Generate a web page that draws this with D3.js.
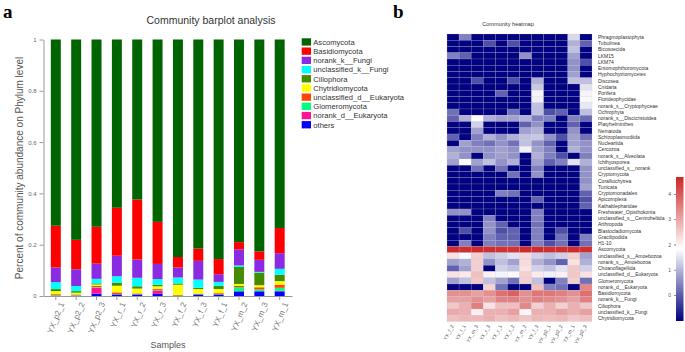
<!DOCTYPE html>
<html>
<head>
<meta charset="utf-8">
<script src="https://cdn.jsdelivr.net/npm/d3@7"></script>
<style>
  body { margin: 0; background: #fff; }
  svg { display: block; font-family: "Liberation Sans", Arial, sans-serif; }
</style>
</head>
<body>
<div id="chart"></div>
<script>
// ---- Data: panel a (barplot) ----
const samples = ["YX_p2_1", "YX_p2_2", "YX_p2_3", "YX_r_1", "YX_r_2", "YX_r_3",
                 "YX_f_2", "YX_f_3", "YX_f_1", "YX_m_2", "YX_m_3", "YX_m_1"];

const taxa = ["Ascomycota", "Basidiomycota", "norank_k__Fungi", "unclassified_k__Fungi",
              "Ciliophora", "Chytridiomycota", "unclassified_d__Eukaryota",
              "Glomeromycota", "norank_d__Eukaryota", "others"];

const ascomycota     = [0.726, 0.781, 0.730, 0.656, 0.624, 0.711, 0.848, 0.815, 0.856, 0.790, 0.826, 0.735];
const basidiomycota  = [0.163, 0.115, 0.144, 0.187, 0.234, 0.164, 0.041, 0.048, 0.059, 0.028, 0.033, 0.098];
const norankFungi    = [0.057, 0.065, 0.059, 0.080, 0.071, 0.059, 0.039, 0.073, 0.030, 0.063, 0.047, 0.061];
const unclassFungi   = [0.027, 0.020, 0.018, 0.025, 0.033, 0.022, 0.023, 0.032, 0.015, 0.006, 0.003, 0.023];
const ciliophora     = [0.008, 0.006, 0.004, 0.012, 0.009, 0.006, 0.005, 0.005, 0.013, 0.066, 0.049, 0.025];
const chytridio      = [0.012, 0.007, 0.006, 0.026, 0.019, 0.010, 0.040, 0.018, 0.016, 0.008, 0.008, 0.014];
const unclassEuk     = [0.004, 0.003, 0.004, 0.006, 0.003, 0.004, 0.002, 0.002, 0.004, 0.004, 0.008, 0.012];
const glomero        = [0.002, 0.002, 0.002, 0.001, 0.001, 0.002, 0.001, 0.001, 0.001, 0.016, 0.007, 0.012];
const norankEuk      = [0.000, 0.000, 0.024, 0.001, 0.000, 0.014, 0.000, 0.000, 0.000, 0.001, 0.001, 0.002];
const othersVals     = [0.001, 0.001, 0.009, 0.006, 0.006, 0.008, 0.001, 0.006, 0.006, 0.018, 0.018, 0.018];

const taxaColors = {
    "Ascomycota": "#006400",
    "Basidiomycota": "#ff0000",
    "norank_k__Fungi": "#8a2be2",
    "unclassified_k__Fungi": "#00ffff",
    "Ciliophora": "#458b00",
    "Chytridiomycota": "#ffff00",
    "unclassified_d__Eukaryota": "#ff4500",
    "Glomeromycota": "#00ff7f",
    "norank_d__Eukaryota": "#ff1493",
    "others": "#0000ff"
};

// ---- Data: panel b (heatmap) ----
const heatSamples = ["YX_f_2", "YX_f_1", "YX_m_3", "YX_r_3", "YX_r_1", "YX_r_2",
                     "YX_m_2", "YX_f_3", "YX_p2_1", "YX_p2_2", "YX_m_1", "YX_p2_3"];

const heatRows = ["Phragmoplastophyta", "Tubulinea", "Bicosoecida", "LKM15", "LKM74",
    "Entomophthoromycota", "Hyphochytriomycetes", "Discosea", "Cnidaria", "Porifera",
    "Florideophycidae", "norank_s__Cryptophyceae", "Ochrophyta", "norank_s__Discicristoidea",
    "Platyhelminthes", "Nematoda", "Schizoplasmodiida", "Nucleariida", "Cercozoa",
    "norank_s__Alveolata", "Ichthyosporea", "unclassified_s__norank", "Cryptomycota",
    "Coralliochytrea", "Tunicata", "Cryptomonadales", "Apicomplexa", "Kathablepharidae",
    "Freshwater_Opisthokonta", "unclassified_s__Centroheliida", "Arthropoda",
    "Blastocladiomycota", "Gracilipodida", "H1-10", "Ascomycota", "unclassified_s__Amoebozoa",
    "norank_s__Amoebozoa", "Choanoflagellida", "unclassified_d__Eukaryota", "Glomeromycota",
    "norank_d__Eukaryota", "Basidiomycota", "norank_k__Fungi", "Ciliophora",
    "unclassified_k__Fungi", "Chytridiomycota"];

// log abundance, one row per taxon, columns follow heatSamples
const heatValues = [
    [-1, 0.4, -1, -1, -1, -1, -1, -1, -1, -1, 1.4, -1],
    [-1, -1, -1, -0.15, -1, -0.15, -1, -1, -1, -1, 0.95, 0.05],
    [-1, -1, -1, -1, -1, -1, -1, -1, -1, -1, 1.12, -1],
    [0.4, 0.05, -1, -1, -1, -1, 0.6, -1, -1, -1, 0.77, -1],
    [-1, -1, -1, -1, -1, -1, -1, -1, -1, -1, 0.6, -0.15],
    [-1, -1, -1, -1, -1, -1, -1, -1, -1, -1, 0.6, -1],
    [-1, -1, -1, -1, -1, -1, -1, -1, -1, -1, 0.77, -1],
    [-1, -1, -0.15, -1, -1, -0.15, -1, 0.95, -1, -1, 1.12, 1.12],
    [-1, -1, -1, -1, -1, -1, -1, 1.2, -1, -1, -1, 1.5],
    [-1, -1, -1, -1, 0.05, -1, -1, 1.7, -1, -1, -1, 1.7],
    [-1, -1, -1, -1, -1, -1, -1, 1.65, -1, -1, -1, 1.75],
    [-1, -1, -1, -1, -1, -1, -1, 1.12, -1, -1, -1, 1.57],
    [0.23, -1, -1, -1, -1, 0.23, -1, 1.12, -0.15, 0.05, -1, 1.12],
    [0.05, 0.95, 1.8, 0.95, 0.77, 0.77, 0.95, 0.4, 0.4, -1, 0.4, 0.15],
    [-1, -1, 1.3, -1, -1, -1, 0.05, 0.6, -1, -1, 0.05, -1],
    [-1, -1, 0.77, -1, -1, -1, 0.77, 0.95, -1, -1, 0.6, -1],
    [0.05, -1, 0.4, 0.95, 0.6, 0.95, 1.12, 1.2, 0.6, -0.15, 0.77, 0.23],
    [-1, 0.77, 0.4, 0.23, 0.6, 0.23, 1.12, 0.6, 0.05, -1, 0.77, 0.6],
    [0.77, 0.6, 0.6, 0.6, 0.77, 0.6, 1.65, 0.77, 0.4, -1, 0.95, 0.6],
    [0.95, 0.6, -1, 0.6, 0.77, 0.6, -1, 0.95, 0.4, -0.15, -1, 0.4],
    [0.77, 1.8, 0.77, 1.12, 0.6, 0.95, -1, 0.77, 0.05, 0.4, 1.5, 0.95],
    [-1, -1, 0.23, -1, 0.23, -1, -1, 0.4, -1, -1, -1, 0.6],
    [-1, -1, -1, -1, -1, 0.23, -1, 0.6, -1, -1, -1, 0.6],
    [-1, -1, -1, -1, -1, -1, -1, -1, -1, -1, -1, 0.6],
    [-1, -1, -1, -1, -1, -1, -1, -1, -1, -1, -1, 0.77],
    [-1, -1, -1, -1, 0.4, 0.23, -1, -1, -1, -1, -1, 0.05],
    [-1, -1, -1, -1, -1, -1, -1, 0.05, -1, -1, -1, -0.15],
    [-1, -1, -1, -1, -1, -1, -1, -1, -1, -1, -1, 0.05],
    [0.6, 0.6, -1, -1, -1, -1, -1, 0.4, -1, -1, -1, -1],
    [-1, -1, -1, 0.4, -1, -1, -1, 0.4, -1, -1, -1, -1],
    [-1, -1, -1, 0.6, 0.05, -1, -1, 0.23, -1, -1, -1, -1],
    [-1, -0.15, -1, 0.6, -0.15, 0.05, -1, 0.4, -1, -0.15, -1, -1],
    [-1, -1, -1, 0.4, 0.05, 0.05, -1, 0.4, -1, 0.23, -1, 0.4],
    [-1, 0.4, -1, 0.4, 0.23, 0.23, -1, 0.4, -0.15, 0.23, -1, 0.23],
    [4.6, 4.55, 4.6, 4.55, 4.5, 4.5, 4.6, 4.6, 4.55, 4.55, 4.6, 4.55],
    [2.2, 1.75, 2.45, 1.12, 1.3, 1.5, 2.3, 1.3, 1.12, 1.3, 2.45, 0.77],
    [0.77, 0.95, 2.45, 0.6, 1.12, 0.77, 2.3, 0.95, 0.6, 0.05, 2.2, 0.95],
    [0.05, 0.77, 2.45, -1, 1.3, 1.12, 2.2, 1.3, 1.12, 1.5, 2.55, 1.3],
    [2.2, 2.1, 2.65, 2.0, 1.7, 1.9, 2.45, 2.1, 1.65, 2.0, 2.55, 2.2],
    [0.77, 1.12, 2.55, 1.12, 0.77, 0.23, 2.45, 1.12, -1, 0.4, 2.45, 0.23],
    [-1, -1, -1, 2.4, 0.23, -1, -1, 2.65, 0.4, 0.23, -1, 3.4],
    [3.28, 3.28, 3.07, 3.28, 3.7, 3.9, 3.28, 3.6, 3.6, 3.5, 3.28, 3.7],
    [3.07, 3.07, 3.28, 3.07, 3.45, 3.5, 3.28, 3.5, 3.4, 3.28, 3.07, 3.5],
    [2.55, 2.86, 3.49, 2.2, 2.65, 2.65, 3.4, 2.45, 2.86, 2.45, 2.86, 2.55],
    [2.95, 2.86, 2.03, 2.86, 2.86, 3.07, 1.95, 2.86, 2.86, 3.07, 2.86, 3.07],
    [2.65, 2.75, 2.75, 2.86, 2.65, 2.75, 2.6, 2.75, 2.7, 2.75, 2.55, 2.65]
];

const colorTicks = [0, 1, 2, 3, 4];

const width = 685, height = 352;

const svg = d3.select("#chart")
    .append("svg")
    .attr("width", width)
    .attr("height", height);

drawBarplot();
drawLegend();
drawHeatmap();

function drawBarplot() {

    // ---- panel letter and title ----
    svg.append("text")
        .attr("x", 3).attr("y", 18)
        .style("font-family", "'Liberation Serif', serif")
        .style("font-weight", "bold")
        .style("font-size", "19px")
        .text("a");

    svg.append("text")
        .attr("x", 211).attr("y", 24)
        .attr("text-anchor", "middle")
        .style("font-size", "10.5px")
        .attr("fill", "#333")
        .text("Community barplot analysis");

    // ---- scales ----
    const xScale = d3.scaleBand()
        .domain(samples)
        .range([43.5, 292])
        .paddingInner(0.51)
        .paddingOuter(0.36);

    const yScale = d3.scaleLinear()
        .domain([0, 1])
        .range([296, 39.5]);

    // ---- stacked bars ----
    const columns = {
        "Ascomycota": ascomycota, "Basidiomycota": basidiomycota,
        "norank_k__Fungi": norankFungi, "unclassified_k__Fungi": unclassFungi,
        "Ciliophora": ciliophora, "Chytridiomycota": chytridio,
        "unclassified_d__Eukaryota": unclassEuk, "Glomeromycota": glomero,
        "norank_d__Eukaryota": norankEuk, "others": othersVals
    };
    const table = samples.map((s, i) => {
        const row = { sample: s };
        taxa.forEach(t => row[t] = columns[t][i]);
        return row;
    });

    const stackKeys = taxa.slice().reverse();
    const series = d3.stack().keys(stackKeys)(table);

    svg.append("g")
        .selectAll("g")
        .data(series)
        .join("g")
        .attr("fill", d => taxaColors[d.key])
        .selectAll("rect")
        .data(d => d)
        .join("rect")
        .attr("x", d => xScale(d.data.sample))
        .attr("y", d => yScale(d[1]))
        .attr("width", xScale.bandwidth())
        .attr("height", d => Math.max(0, yScale(d[0]) - yScale(d[1])));

    // ---- left axis ----
    const yAxis = svg.append("g")
        .attr("transform", "translate(43.5,0)")
        .call(d3.axisLeft(yScale)
            .tickValues([0, 0.2, 0.4, 0.6, 0.8, 1])
            .tickFormat(d => d)
            .tickSize(4)
            .tickSizeOuter(0));
    yAxis.selectAll("path, line").attr("stroke", "#999");
    yAxis.selectAll("text").attr("fill", "#666").style("font-size", "6px");

    svg.append("text")
        .attr("transform", "rotate(-90)")
        .attr("x", -168).attr("y", 23)
        .attr("text-anchor", "middle")
        .style("font-size", "10px")
        .attr("fill", "#555")
        .text("Percent of community abundance on Phylum level");

    // ---- bottom axis ----
    const xAxis = svg.append("g")
        .attr("transform", "translate(0,296)")
        .call(d3.axisBottom(xScale).tickSize(4).tickSizeOuter(0));
    xAxis.selectAll("path, line").attr("stroke", "#999");
    xAxis.selectAll("text")
        .attr("fill", "#777")
        .style("font-size", "8px")
        .attr("text-anchor", "end")
        .attr("dy", "0.3em")
        .attr("transform", "translate(0,4) rotate(-68)");

    svg.append("text")
        .attr("x", 168).attr("y", 348)
        .attr("text-anchor", "middle")
        .style("font-size", "9px")
        .attr("fill", "#555")
        .text("Samples");
}

function drawLegend() {

    const legend = svg.append("g")
        .attr("transform", "translate(301.7,38.3)");

    const legendItem = legend.selectAll(".legend-item")
        .data(taxa)
        .join("g")
        .attr("class", "legend-item")
        .attr("transform", (d, i) => `translate(0, ${i * 9.2})`);

    legendItem.append("rect")
        .attr("width", 9.3)
        .attr("height", 7.3)
        .attr("fill", d => taxaColors[d]);

    legendItem.append("text")
        .attr("x", 11.6)
        .attr("y", 6.4)
        .style("font-size", "7.6px")
        .attr("fill", "#333")
        .text(d => d);
}

function drawHeatmap() {

    svg.append("text")
        .attr("x", 393).attr("y", 18)
        .style("font-family", "'Liberation Serif', serif")
        .style("font-weight", "bold")
        .style("font-size", "19px")
        .text("b");

    svg.append("text")
        .attr("x", 508).attr("y", 26)
        .attr("text-anchor", "middle")
        .style("font-size", "5.6px")
        .attr("fill", "#333")
        .text("Community heatmap");

    // ---- scales ----
    const xScale = d3.scaleBand().domain(heatSamples).range([447, 592]);
    const yScale = d3.scaleBand().domain(heatRows).range([34, 321.5]);
    const colorScale = d3.scaleLinear()
        .domain([-1.03, 1.82, 4.67])
        .range(["#000080", "#ffffff", "#cd2626"])
        .clamp(true);

    const cells = [];
    heatRows.forEach((r, i) => {
        heatSamples.forEach((s, j) => cells.push({ row: r, col: s, value: heatValues[i][j] }));
    });

    svg.append("g")
        .selectAll("rect")
        .data(cells)
        .join("rect")
        .attr("x", d => xScale(d.col))
        .attr("y", d => yScale(d.row))
        .attr("width", xScale.bandwidth())
        .attr("height", yScale.bandwidth())
        .attr("fill", d => colorScale(d.value))
        .attr("stroke", "rgba(190,190,210,0.45)")
        .attr("stroke-width", 0.4);

    // ---- row labels ----
    svg.append("g")
        .selectAll("text")
        .data(heatRows)
        .join("text")
        .attr("x", 598)
        .attr("y", d => yScale(d) + yScale.bandwidth() / 2)
        .attr("dy", "0.35em")
        .style("font-size", "5px")
        .attr("fill", "#333")
        .text(d => d);

    // ---- column labels ----
    svg.append("g")
        .selectAll("text")
        .data(heatSamples)
        .join("text")
        .attr("transform", d => `translate(${xScale(d) + xScale.bandwidth() / 2 + 1},326) rotate(-62)`)
        .attr("text-anchor", "end")
        .style("font-size", "5px")
        .attr("fill", "#555")
        .text(d => d);

    // ---- colour bar ----
    const barScale = d3.scaleLinear().domain([-1.03, 4.67]).range([321, 177]);

    const defs = svg.append("defs");
    const grad = defs.append("linearGradient")
        .attr("id", "heatGrad")
        .attr("x1", 0).attr("y1", 1).attr("x2", 0).attr("y2", 0);
    d3.range(0, 1.001, 0.1).forEach(t => {
        grad.append("stop")
            .attr("offset", t)
            .attr("stop-color", colorScale(-1.03 + t * 5.7));
    });

    svg.append("rect")
        .attr("x", 676).attr("y", 177)
        .attr("width", 7.5).attr("height", 144)
        .attr("fill", "url(#heatGrad)");

    const cAxis = svg.append("g")
        .attr("transform", "translate(676,0)")
        .call(d3.axisLeft(barScale)
            .tickValues(colorTicks)
            .tickFormat(d3.format("d"))
            .tickSize(2)
            .tickSizeOuter(0));
    cAxis.select(".domain").remove();
    cAxis.selectAll("line").attr("stroke", "#888");
    cAxis.selectAll("text").attr("fill", "#555").style("font-size", "5px");
}
</script>
</body>
</html>
